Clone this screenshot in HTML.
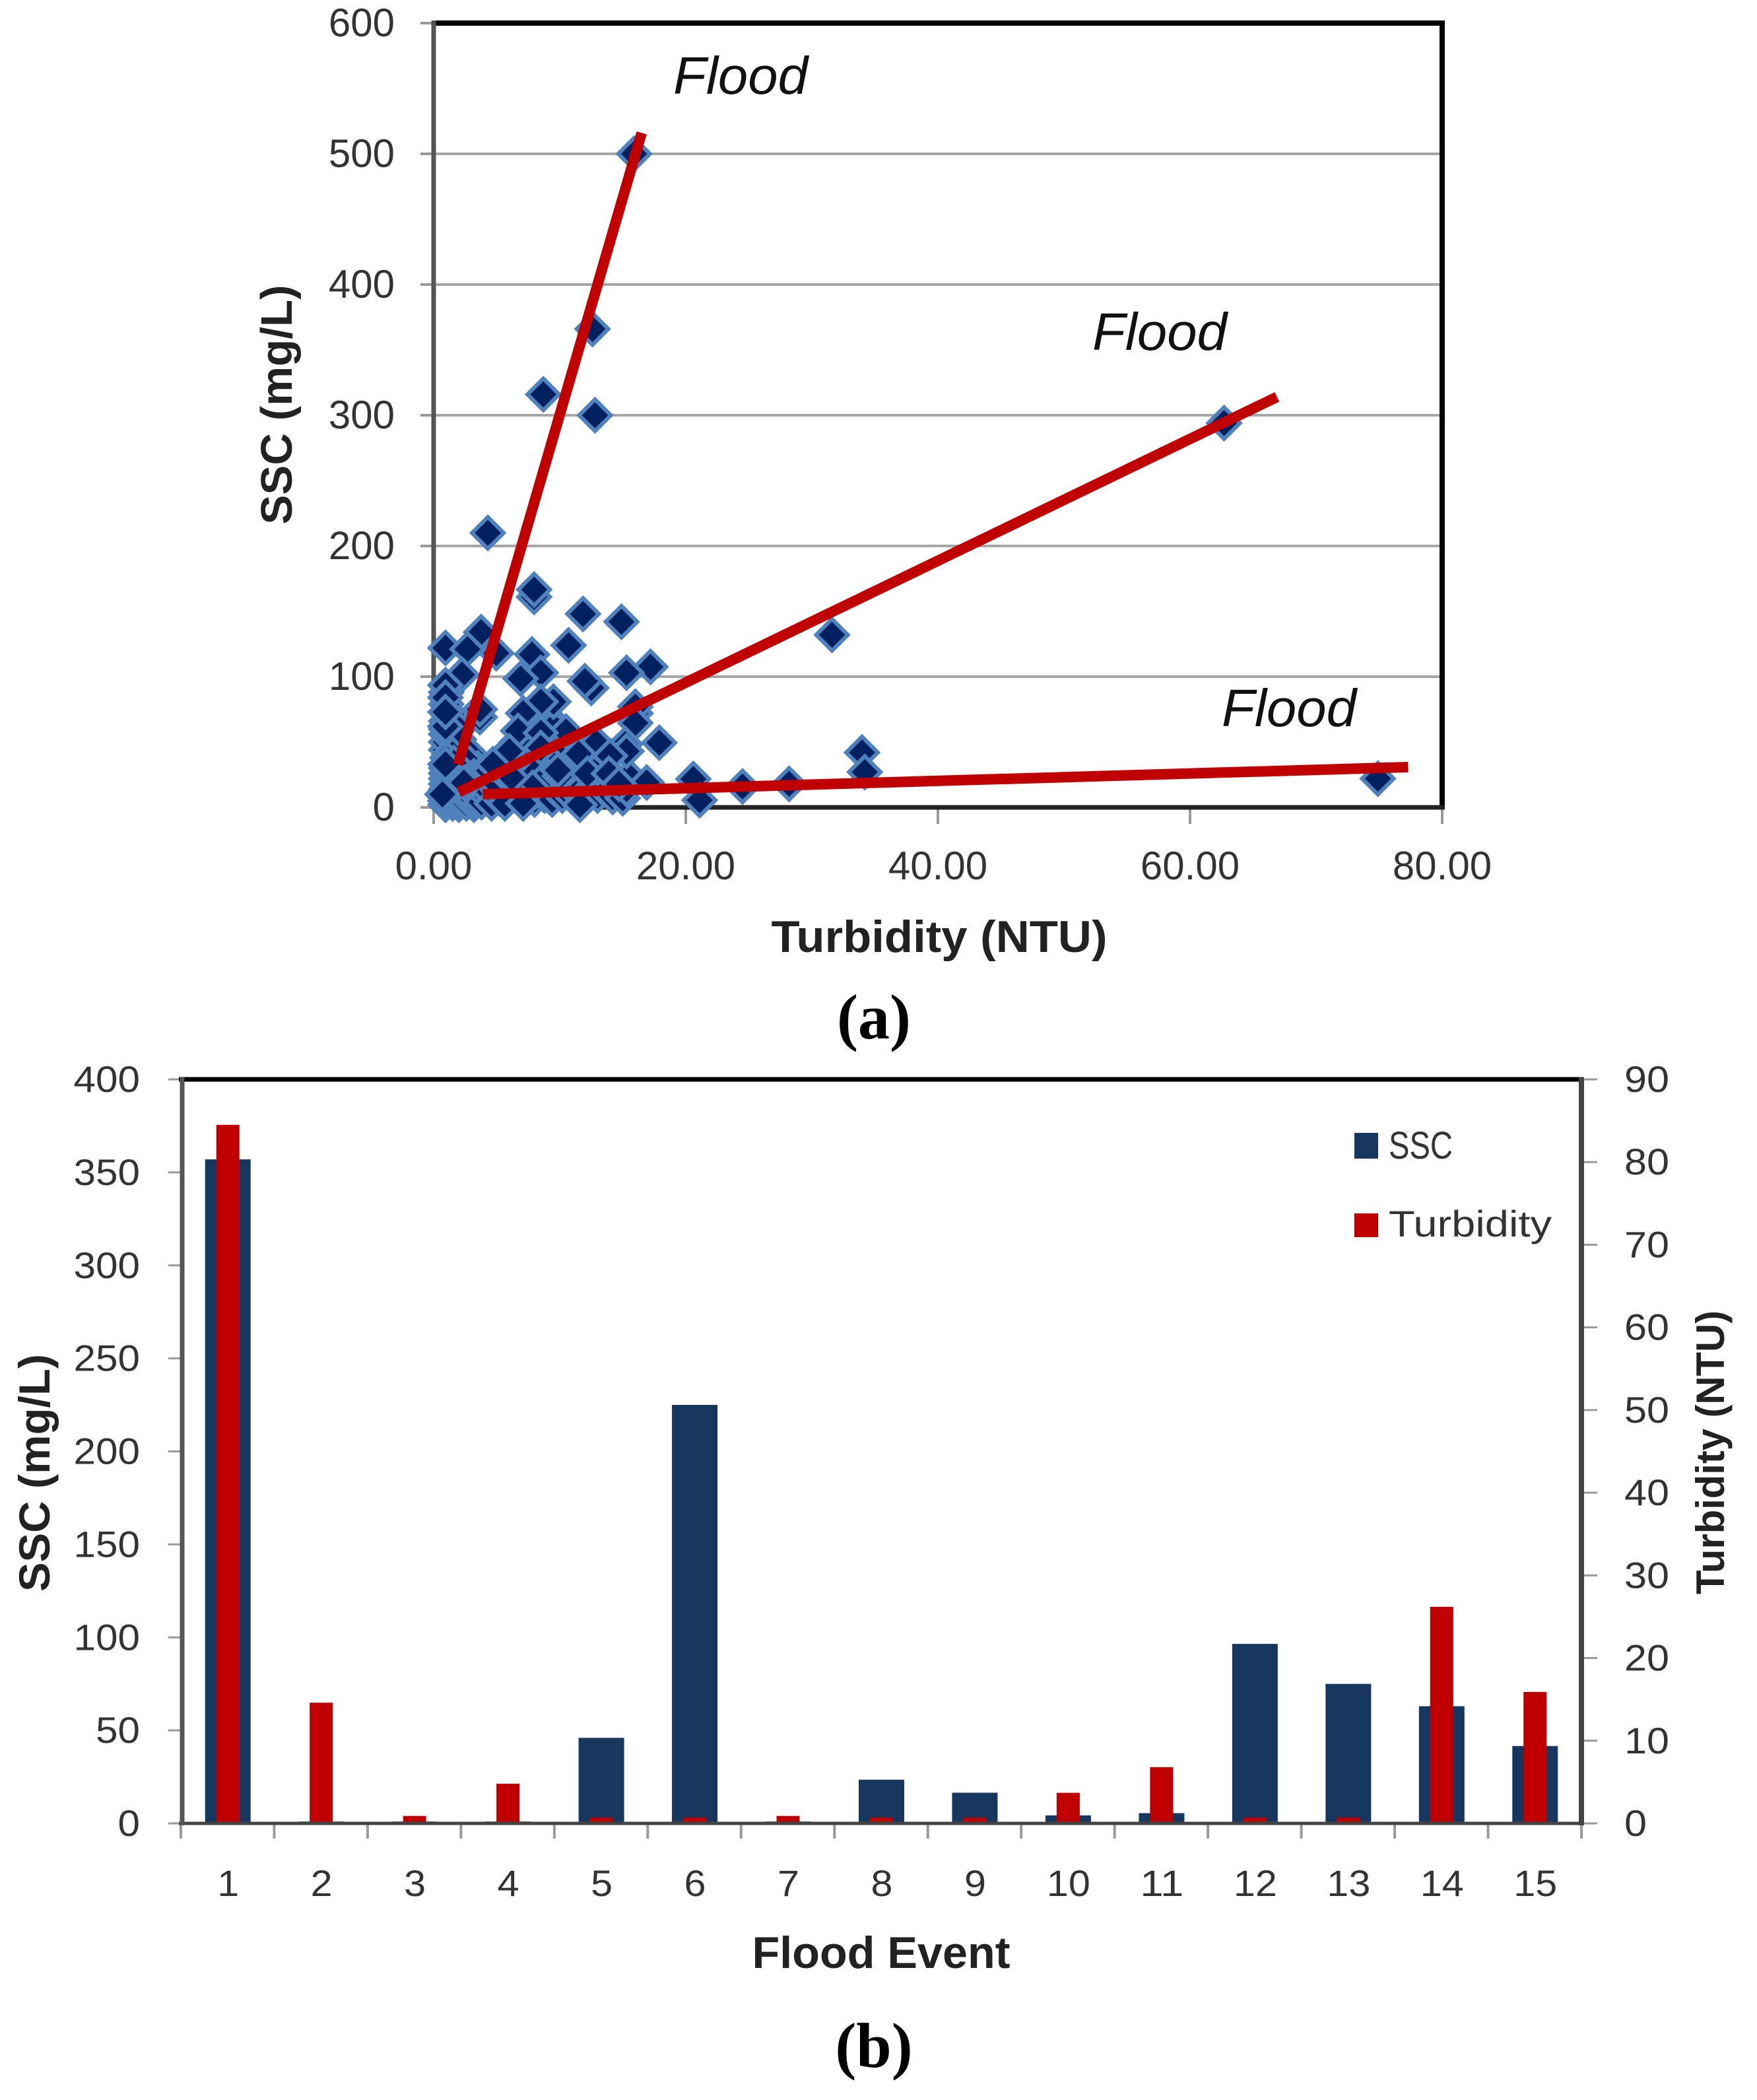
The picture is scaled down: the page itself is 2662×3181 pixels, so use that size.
<!DOCTYPE html>
<html lang="en">
<head>
<meta charset="utf-8">
<title>SSC and Turbidity charts</title>
<style>
html,body{margin:0;padding:0;background:#fff;}
svg{display:block;}
text{font-family:"Liberation Sans",sans-serif;}
</style>
</head>
<body>
<svg id="figure" xmlns="http://www.w3.org/2000/svg" width="2662" height="3181" viewBox="0 0 2662 3181">
  <rect width="2662" height="3181" fill="#fff"/>
  <g id="chart-a"></g>
  <g id="chart-b"></g>
  <text x="1020" y="142" font-size="80" font-style="italic" fill="#111" textLength="204" lengthAdjust="spacingAndGlyphs">Flood</text>
  <text x="1655" y="530" font-size="80" font-style="italic" fill="#111" textLength="204" lengthAdjust="spacingAndGlyphs">Flood</text>
  <text x="1851" y="1100" font-size="80" font-style="italic" fill="#111" textLength="204" lengthAdjust="spacingAndGlyphs">Flood</text>
  <text x="1324" y="1573" font-size="96" font-weight="bold" text-anchor="middle" fill="#000" style="font-family:'Liberation Serif',serif">(a)</text>
  <text x="1324" y="3131" font-size="96" font-weight="bold" text-anchor="middle" fill="#000" style="font-family:'Liberation Serif',serif">(b)</text>
</svg>
<script>
// ---- Scatter chart data (a) ----
const scatterTurbidity = [
  0.94,0.94,0.94,1,1,1,1,1,1,1.1,1,1,1,1.5,1.5,1.5,1.5,1.6,1.6,2,2,2,2.2,2.6,2.6,2.8,3.2,3.2,3.4,3.4,3.8,3.8,4.3,4.3,4.6,4.8,5.2,5.2,5.7,5.8,6.2,6.6,7.1,7.2,7.4,8,8.2,8.8,9,9.4,9.6,10.2,10.6,11,11.2,12,12.5,13,13.5,14.2,14.6,15,15.3,
  9,8,6.6,7.6,9.5,11,13.7,7,8.6,10,5,6.2,1.5,2,2.9,3.5,
  1,1,1.5,1,1,2,2.6,1.6,3.2,3.8,4.4,5.4,6.4,7.6,8.8,9.6,10.8,12,13,14,15.5,5,6,7,8,9,10,
  7.97,7.97,11.85,14.9,3.77,0.94,2.68,4.97,10.7,7.8,17.2,15.3,8.5,2.25,6.9,12.5,12,0.94,0.94,9.5,8.5,16,16,0.94,0.94,7.1,3.66,3.66,16,6.7,10.5,8.5,17.9,15.2,15.3,12.9,11.5,14,6,8.5,0.94,4.7,9.85,12.2,13.9,6.3,20.6,16.9,14.7,7.85,2.4,0.7,11.6,21.1,5.65,7.1,
  15.9,12.6,8.7,12.8,4.3,31.6,62.7,33.98,34.2,74.9,24.5,28.2
];
const scatterSSC = [
  2,5,8,11,14,18,22,26,30,38,44,50,56,3,7,12,16,20,26,2,6,10,14,3,8,13,2,6,10,15,19,4,8,13,3,18,7,12,4,16,9,13,4,9,20,6,13,9,18,6,14,9,18,8,13,8,15,9,14,8,12,7,14,
  70,65,50,52,62,50,38,38,34,40,26,30,43,52,41,30,
  60,66,70,79,88,60,36,34,24,26,28,38,42,44,28,32,30,34,30,26,24,18,22,26,26,24,24,
  161,166.6,148,142,134,122,121,118,124,117,107.5,103,103,101.5,98.5,91.4,96.5,93.5,84,80.8,80.8,72,77,62,73,72,69,75,64.6,58.6,58,57,49.5,48.5,43,49.5,41,39.4,43,45.5,33,33,28.4,25.8,25.8,21.7,21.7,19,18,15,19,10,2,5.5,3,3,
  500,366,316,300,210,132,294,42,27,22,16,18
];
// Fitted flood trend lines as turbidity/SSC end points
const trendTurbidityStart = [1.94, 2.0, 3.9];
const trendSSCStart = [32.8, 11.6, 10.1];
const trendTurbidityEnd = [16.5, 66.9, 77.3];
const trendSSCEnd = [516, 314, 30.8];
const scatterYTicks = [0,100,200,300,400,500,600];
const scatterXTicks = [0,20,40,60,80];
const scatterXLabels = ["0.00","20.00","40.00","60.00","80.00"];

// ---- Bar chart data (b) ----
const floodEvents = ["1","2","3","4","5","6","7","8","9","10","11","12","13","14","15"];
const sscValues = [357,1,1,1,46,225,1,23.5,16.5,4.3,5.5,96.5,75,63,41.6];
const turbidityValues = [84.5,14.6,0.9,4.8,0.7,0.7,0.9,0.7,0.7,3.7,6.8,0.7,0.7,26.2,15.9];
const sscTicks = [0,50,100,150,200,250,300,350,400];
const turbidityTicks = [0,10,20,30,40,50,60,70,80,90];

const NS = "http://www.w3.org/2000/svg";
function make(parent, tag, attrs, txt) {
  const el = document.createElementNS(NS, tag);
  for (const k in attrs) el.setAttribute(k, attrs[k]);
  if (txt !== undefined) el.textContent = txt;
  parent.appendChild(el);
  return el;
}

// ---------- Chart A ----------
const ga = document.getElementById("chart-a");
const ax = v => 657 + (v / 80) * 1528;
const ay = v => 1223 - (v / 600) * 1188;

scatterYTicks.forEach(function (t) {
  if (t > 0 && t < 600) {
    const grid = make(ga, "line", {x1: ax(0), x2: ax(80), y1: ay(t), y2: ay(t), stroke: "#a6a6a6", "stroke-width": 4});
    
    
  }
  const tick = make(ga, "line", {x1: 637, x2: ax(0), y1: ay(t), y2: ay(t), stroke: "#999", "stroke-width": 4});
  
  
  const lab = make(ga, "text", {x: 598, y: ay(t) + 20, "font-size": 60, "text-anchor": "end", fill: "#333"}, String(t));
  
  
});
scatterXTicks.forEach(function (t, i) {
  const tick = make(ga, "line", {x1: ax(t), x2: ax(t), y1: ay(0), y2: 1248, stroke: "#999", "stroke-width": 4});
  
  
  const lab = make(ga, "text", {x: ax(t), y: 1332, "font-size": 60, "text-anchor": "middle", fill: "#333"}, scatterXLabels[i]);
  
  
});

const aTop = make(ga, "line", {x1: 654, x2: 2189, y1: ay(600), y2: ay(600), stroke: "#000", "stroke-width": 8});


const aRight = make(ga, "line", {x1: ax(80), x2: ax(80), y1: 31, y2: 1226, stroke: "#000", "stroke-width": 8});


const aBottom = make(ga, "line", {x1: 654, x2: 2189, y1: ay(0), y2: ay(0), stroke: "#222", "stroke-width": 7});


const aLeft = make(ga, "line", {x1: ax(0), x2: ax(0), y1: 31, y2: 1226, stroke: "#555", "stroke-width": 7});



scatterTurbidity.forEach(function (x, i) {
  const cx = ax(x), cy = ay(scatterSSC[i]), r = 24;
  const d = make(ga, "polygon", {
    points: [cx, cy - r, cx + r, cy, cx, cy + r, cx - r, cy].join(" "),
    fill: "#002060", stroke: "#4f81bd", "stroke-width": 6
  });
  
  
});

trendTurbidityStart.forEach(function (x, i) {
  const line = make(ga, "line", {
    x1: ax(x), y1: ay(trendSSCStart[i]), x2: ax(trendTurbidityEnd[i]), y2: ay(trendSSCEnd[i]),
    stroke: "#c00000", "stroke-width": 16
  });
  
  
});

const aXT = make(ga, "text", {x: 1423, y: 1442, "font-size": 68, "font-weight": "bold", "text-anchor": "middle", fill: "#222", textLength: 509, lengthAdjust: "spacingAndGlyphs"}, "Turbidity (NTU)");


const aYT = make(ga, "text", {x: 0, y: 0, "font-size": 67, "font-weight": "bold", "text-anchor": "middle", fill: "#222", textLength: 363, lengthAdjust: "spacingAndGlyphs", transform: "translate(442,613) rotate(-90)"}, "SSC (mg/L)");



// ---------- Chart B ----------
const gb = document.getElementById("chart-b");
const bLeft = 274, bRight = 2396, bBase = 2762, bTop = 1635;
const slot = (bRight - bLeft) / floodEvents.length;
const bx = i => bLeft + slot * (i + 0.5);
const sscY = v => bBase - (v / 400) * (bBase - bTop);
const turbY = v => bBase - (v / 90) * (bBase - bTop);

floodEvents.forEach(function (name, i) {
  const s = make(gb, "rect", {x: bx(i) - 34, y: sscY(sscValues[i]), width: 69, height: bBase - sscY(sscValues[i]), fill: "#17375e"});
  
  
  const t = make(gb, "rect", {x: bx(i) - 17, y: turbY(turbidityValues[i]), width: 35, height: bBase - turbY(turbidityValues[i]), fill: "#c00000"});
  
  
  const lab = make(gb, "text", {x: bx(i) + 1, y: 2872, "font-size": 56, "text-anchor": "middle", fill: "#333", textLength: name.length * 33, lengthAdjust: "spacingAndGlyphs"}, name);
  
  
});
for (let i = 0; i <= floodEvents.length; i++) {
  const tick = make(gb, "line", {x1: bLeft + slot * i, x2: bLeft + slot * i, y1: bBase, y2: 2785, stroke: "#999", "stroke-width": 4});
  
  
}
sscTicks.forEach(function (t) {
  const tick = make(gb, "line", {x1: 255, x2: bLeft, y1: sscY(t), y2: sscY(t), stroke: "#999", "stroke-width": 3});
  
  
  const label = String(t);
  const lab = make(gb, "text", {x: 212, y: sscY(t) + 19, "font-size": 56, "text-anchor": "end", fill: "#333", textLength: label.length * 33.5, lengthAdjust: "spacingAndGlyphs"}, label);
  
  
});
turbidityTicks.forEach(function (t) {
  const tick = make(gb, "line", {x1: bRight, x2: 2420, y1: turbY(t), y2: turbY(t), stroke: "#999", "stroke-width": 3});
  
  
  const label = String(t);
  const lab = make(gb, "text", {x: 2461, y: turbY(t) + 19, "font-size": 56, fill: "#333", textLength: label.length * 34, lengthAdjust: "spacingAndGlyphs"}, label);
  
  
});

const bTopLine = make(gb, "line", {x1: bLeft - 3, x2: bRight + 3, y1: bTop, y2: bTop, stroke: "#000", "stroke-width": 7});


const bBottom = make(gb, "line", {x1: bLeft - 3, x2: bRight + 3, y1: bBase, y2: bBase, stroke: "#444", "stroke-width": 5});


const bLeftLine = make(gb, "line", {x1: bLeft + 2, x2: bLeft + 2, y1: bTop - 3, y2: bBase + 3, stroke: "#555", "stroke-width": 7});


const bRightLine = make(gb, "line", {x1: bRight, x2: bRight, y1: bTop - 3, y2: bBase + 3, stroke: "#444", "stroke-width": 8});



const legSSC = make(gb, "rect", {x: 2052, y: 1716, width: 36, height: 39, fill: "#17375e"});


const legSSCText = make(gb, "text", {x: 2104, y: 1755, "font-size": 58, fill: "#333", textLength: 97, lengthAdjust: "spacingAndGlyphs"}, "SSC");


const legT = make(gb, "rect", {x: 2052, y: 1838, width: 36, height: 36, fill: "#c00000"});


const legTText = make(gb, "text", {x: 2104, y: 1873, "font-size": 56, fill: "#333", textLength: 247, lengthAdjust: "spacingAndGlyphs"}, "Turbidity");



const bXT = make(gb, "text", {x: 1335, y: 2981, "font-size": 68, "font-weight": "bold", "text-anchor": "middle", fill: "#222", textLength: 391, lengthAdjust: "spacingAndGlyphs"}, "Flood Event");


const bYL = make(gb, "text", {x: 0, y: 0, "font-size": 66, "font-weight": "bold", "text-anchor": "middle", fill: "#222", textLength: 360, lengthAdjust: "spacingAndGlyphs", transform: "translate(75,2231) rotate(-90)"}, "SSC (mg/L)");


const bYR = make(gb, "text", {x: 0, y: 0, "font-size": 60, "font-weight": "bold", "text-anchor": "middle", fill: "#222", textLength: 430, lengthAdjust: "spacingAndGlyphs", transform: "translate(2612,2200) rotate(-90)"}, "Turbidity (NTU)");


</script>
</body>
</html>
